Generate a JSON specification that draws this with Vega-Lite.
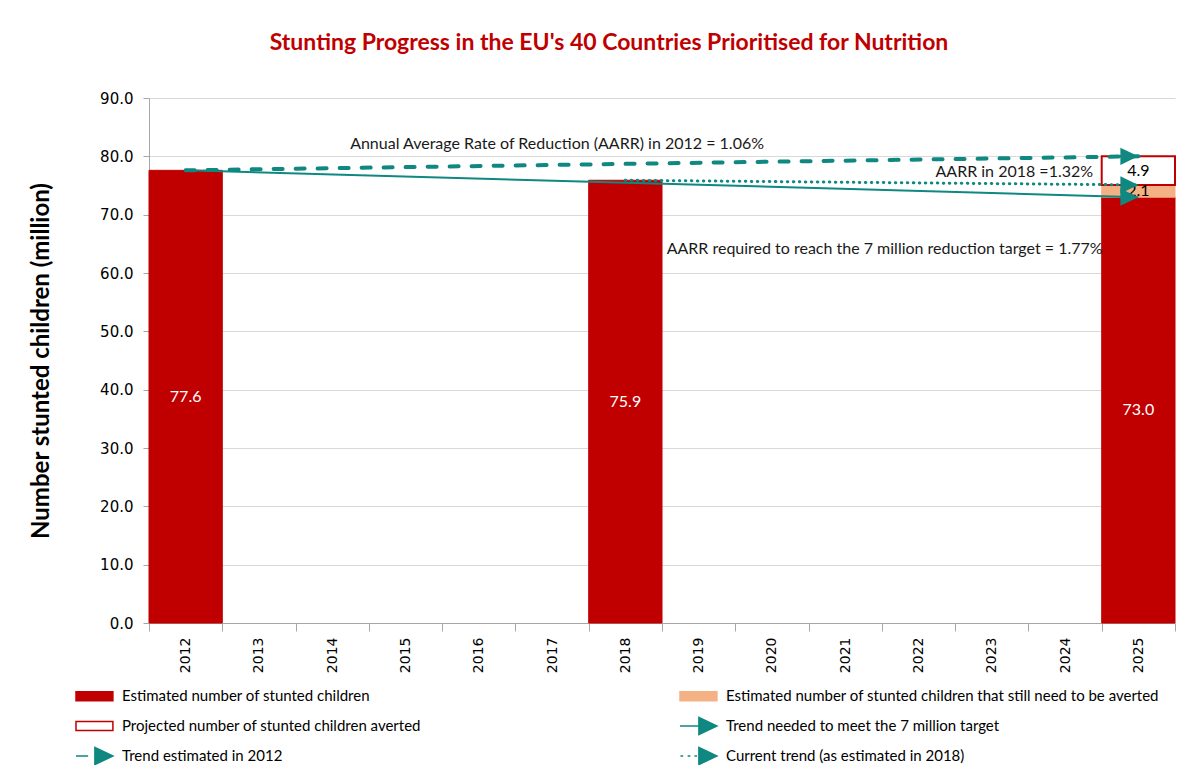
{
  "$schema": "https://vega.github.io/schema/vega-lite/v6.json",
  "width": 1026,
  "height": 525,
  "autosize": "none",
  "padding": {"left": 149, "top": 98, "right": 23, "bottom": 142},
  "background": "white",
  "title": {
    "text": "Stunting Progress in the EU's 40 Countries Prioritised for Nutrition",
    "color": "#c00000",
    "font": "Lato",
    "fontSize": 23,
    "fontWeight": "bold",
    "anchor": "middle",
    "frame": "group",
    "dx": -53,
    "offset": 36
  },
  "config": {"view": {"stroke": null}, "font": "Lato"},
  "datasets": {
    "bars": [
      {"year": "2012", "series": "Estimated number of stunted children", "value": 77.6, "rank": 1},
      {"year": "2018", "series": "Estimated number of stunted children", "value": 75.9, "rank": 1},
      {"year": "2025", "series": "Estimated number of stunted children", "value": 73.0, "rank": 1},
      {"year": "2025", "series": "Estimated number of stunted children that still need to be averted", "value": 2.1, "rank": 2},
      {"year": "2025", "series": "Projected number of stunted children averted", "value": 4.9, "rank": 3}
    ],
    "trends": [
      {"trend": "Trend estimated in 2012", "year": "2012", "value": 77.6},
      {"trend": "Trend estimated in 2012", "year": "2025", "value": 80.0},
      {"trend": "Trend needed to meet the 7 million target", "year": "2012", "value": 77.6},
      {"trend": "Trend needed to meet the 7 million target", "year": "2025", "value": 73.0},
      {"trend": "Current trend (as estimated in 2018)", "year": "2018", "value": 75.9},
      {"trend": "Current trend (as estimated in 2018)", "year": "2025", "value": 75.1}
    ]
  },
  "layer": [
    {
      "data": {"name": "bars"},
      "transform": [
        {"stack": "value", "groupby": ["year"], "sort": [{"field": "rank", "order": "ascending"}], "as": ["v0", "v1"]}
      ],
      "mark": {
        "type": "bar", "opacity": 1,
        "stroke": {"expr": "(datum.series || datum.value) === 'Estimated number of stunted children that still need to be averted' ? '#f4b183' : ((datum.series || datum.value) === 'Estimated number of stunted children' || (datum.series || datum.value) === 'Projected number of stunted children averted') ? '#c00000' : '#0e8880'"},
        "strokeWidth": {"expr": "(datum.series || datum.value) === 'Trend estimated in 2012' ? 4 : (datum.series || datum.value) === 'Current trend (as estimated in 2018)' ? 3 : (datum.series || datum.value) === 'Trend needed to meet the 7 million target' ? 2.5 : (datum.series || datum.value) === 'Projected number of stunted children averted' ? 2 : 1"}
      },
      "encoding": {
        "x": {
          "field": "year", "type": "ordinal", "title": null,
          "scale": {"domain": ["2012","2013","2014","2015","2016","2017","2018","2019","2020","2021","2022","2023","2024","2025"], "paddingInner": 0, "paddingOuter": 0},
          "axis": {"labelAngle": -90, "labelFont": "DejaVu Sans", "labelFontSize": 14, "labelColor": "black", "tickBand": "extent", "tickSize": 8, "labelPadding": 6, "domainColor": "#a6a6a6", "tickColor": "#a6a6a6", "grid": false}
        },
        "y": {
          "field": "v0", "type": "quantitative", "title": "Number stunted children (million)",
          "scale": {"domain": [0, 90]},
          "axis": {"values": [0,10,20,30,40,50,60,70,80,90], "format": ".1f", "labelFont": "DejaVu Sans", "labelFontSize": 15, "labelColor": "black", "labelPadding": 10, "tickSize": 6, "tickColor": "#a6a6a6", "domainColor": "#a6a6a6", "gridColor": "#d9d9d9", "grid": true, "titleFont": "Lato", "titleFontSize": 24, "titleFontWeight": "bold", "titleColor": "black", "titlePadding": 46}
        },
        "y2": {"field": "v1"},
        "color": {
          "field": "series", "type": "nominal",
          "scale": {
            "domain": ["Estimated number of stunted children", "Projected number of stunted children averted", "Trend estimated in 2012", "Estimated number of stunted children that still need to be averted", "Trend needed to meet the 7 million target", "Current trend (as estimated in 2018)"],
            "range": ["#c00000", "#ffffff", "#0e8880", "#f4b183", "#0e8880", "#0e8880"]
          },
          "legend": {
            "title": null, "orient": "none", "legendX": -74, "legendY": 588, "columns": 2, "columnPadding": 255, "rowPadding": 6,
            "labelFont": "Lato", "labelFontSize": 15, "labelColor": "black", "labelLimit": 700, "symbolSize": 324, "labelOffset": 27,
            "symbolType": {"expr": "datum.value === 'Trend needed to meet the 7 million target' ? 'M-1,0H1.3M1.1,-0.95L3.1,0L1.1,0.95Z' : datum.value === 'Trend estimated in 2012' ? 'M-1,0H0.35M1.1,-0.95L3.1,0L1.1,0.95Z' : datum.value === 'Current trend (as estimated in 2018)' ? 'M-0.95,0H-0.65M-0.15,0H0.15M0.6,0H0.9M1.1,-0.95L3.1,0L1.1,0.95Z' : 'M-1,-0.5H3.1V0.5H-1ZM-1,-0.97L-1,-0.97M-1,0.97L-1,0.97'"}
          }
        }
      }
    },
    {
      "data": {"name": "bars"},
      "transform": [
        {"stack": "value", "groupby": ["year"], "sort": [{"field": "rank", "order": "ascending"}], "as": ["v0", "v1"]},
        {"calculate": "(datum.v0 + datum.v1) / 2", "as": "mid"}
      ],
      "mark": {"type": "text", "font": "Lato", "fontSize": 16, "baseline": "middle"},
      "encoding": {
        "x": {"field": "year", "type": "ordinal", "title": null},
        "y": {"field": "mid", "type": "quantitative", "title": "Number stunted children (million)"},
        "text": {"field": "value", "type": "quantitative", "format": ".1f"},
        "color": {"condition": {"test": "datum.series === 'Estimated number of stunted children'", "value": "white"}, "value": "black"}
      }
    },
    {
      "data": {"name": "trends"},
      "transform": [{"filter": "datum.trend === 'Trend estimated in 2012'"}],
      "mark": {"type": "line", "color": "#0e8880", "strokeWidth": 4, "strokeDash": [9, 13], "strokeCap": "round"},
      "encoding": {
        "x": {"field": "year", "type": "ordinal", "title": null},
        "y": {"field": "value", "type": "quantitative", "title": "Number stunted children (million)"}
      }
    },
    {
      "data": {"name": "trends"},
      "transform": [{"filter": "datum.trend === 'Trend needed to meet the 7 million target'"}],
      "mark": {"type": "line", "color": "#0e8880", "strokeWidth": 2},
      "encoding": {
        "x": {"field": "year", "type": "ordinal", "title": null},
        "y": {"field": "value", "type": "quantitative", "title": "Number stunted children (million)"}
      }
    },
    {
      "data": {"name": "trends"},
      "transform": [{"filter": "datum.trend === 'Current trend (as estimated in 2018)'"}],
      "mark": {"type": "line", "color": "#0e8880", "strokeWidth": 3, "strokeDash": [0.5, 5.5], "strokeCap": "round"},
      "encoding": {
        "x": {"field": "year", "type": "ordinal", "title": null},
        "y": {"field": "value", "type": "quantitative", "title": "Number stunted children (million)"}
      }
    },
    {
      "data": {"name": "trends"},
      "transform": [{"filter": "datum.year === '2025'"}],
      "mark": {"type": "point", "shape": "M-2,-0.95L0,0L-2,0.95Z", "size": 324, "filled": true, "color": "#0e8880", "opacity": 1, "strokeWidth": 0},
      "encoding": {
        "x": {"field": "year", "type": "ordinal", "title": null},
        "y": {"field": "value", "type": "quantitative", "title": "Number stunted children (million)"}
      }
    },
    {
      "data": {"values": [{"year": "2017", "value": 82.2, "note": "Annual Average Rate of Reduction (AARR) in 2012 = 1.06%"}]},
      "mark": {"type": "text", "font": "Lato", "fontSize": 16, "color": "#1a1a1a", "align": "center", "baseline": "middle", "dx": 5},
      "encoding": {
        "x": {"field": "year", "type": "ordinal", "title": null},
        "y": {"field": "value", "type": "quantitative", "title": "Number stunted children (million)"},
        "text": {"field": "note"}
      }
    },
    {
      "data": {"values": [{"year": "2024", "value": 77.4, "note": "AARR in 2018 =1.32%"}]},
      "mark": {"type": "text", "font": "Lato", "fontSize": 16, "color": "#1a1a1a", "align": "right", "baseline": "middle", "dx": 28},
      "encoding": {
        "x": {"field": "year", "type": "ordinal", "title": null},
        "y": {"field": "value", "type": "quantitative", "title": "Number stunted children (million)"},
        "text": {"field": "note"}
      }
    },
    {
      "data": {"values": [{"year": "2019", "value": 64.1, "note": "AARR required to reach the 7 million reduction target = 1.77%"}]},
      "mark": {"type": "text", "font": "Lato", "fontSize": 16, "color": "#1a1a1a", "align": "left", "baseline": "middle", "dx": -32},
      "encoding": {
        "x": {"field": "year", "type": "ordinal", "title": null},
        "y": {"field": "value", "type": "quantitative", "title": "Number stunted children (million)"},
        "text": {"field": "note"}
      }
    }
  ]
}
